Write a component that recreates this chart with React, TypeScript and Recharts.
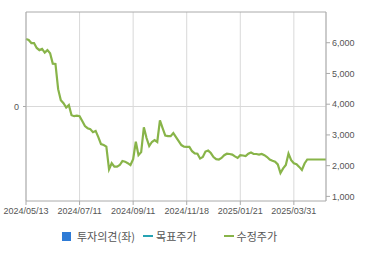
import { LineChart, Line, XAxis, YAxis, CartesianGrid, ReferenceLine } from 'recharts'

// x-axis labels shown every 20 trading days
const tickLabels = ['2024/05/13', '2024/07/11', '2024/09/11', '2024/11/18', '2025/01/21', '2025/03/31']
const tickIndex = [0, 20, 40, 60, 80, 100]

// 수정주가 (adjusted price)
const adjPrice = [
  6120, 6090, 5990, 5990, 5830, 5760, 5800, 5680, 5760, 5660,
  5320, 5310, 4490, 4130, 4030, 3890, 3970, 3640, 3610, 3630,
  3610, 3450, 3290, 3220, 3190, 3090, 3130, 2930, 2700, 2670,
  2620, 1880, 2080, 1970, 1970, 2020, 2150, 2130, 2080, 2020,
  2210, 2780, 2340, 2440, 3250, 2900, 2640, 2770, 2830, 2770,
  3470, 3220, 2980, 2960, 2960, 3060, 2930, 2800, 2670, 2620,
  2610, 2610, 2470, 2400, 2390, 2230, 2280, 2460, 2490, 2410,
  2280, 2210, 2200, 2250, 2340, 2390, 2380, 2360, 2300, 2250,
  2340, 2330, 2310, 2390, 2430, 2380, 2380, 2360, 2380, 2340,
  2280, 2200, 2160, 2130, 2040, 1760, 1910, 2020, 2390, 2180,
  2080, 2050, 1960, 1860, 2070, 2200, 2200, 2200, 2200, 2200,
  2200, 2200, 2200,
]

// 투자의견 has no entries in this period
const opinion: (number | null)[] = adjPrice.map(() => null)

const rightTicks = [1000, 2000, 3000, 4000, 5000, 6000]

const GREEN = '#88b449'
const AXIS = '#aaaaaa'
const GRID = '#d9d9d9'
const TEXT = '#555555'
const FONT = 'Liberation Sans, Arial, sans-serif'

const data = adjPrice.map((price, i) => ({ i, price, opinion: opinion[i] }))

function LegendItem({ kind, color, label }: { kind: 'box' | 'line'; color: string; label: string }) {
  return (
    <span style={{ display: 'inline-flex', alignItems: 'center', marginRight: 8 }}>
      {kind === 'box' ? (
        <span style={{ width: 9, height: 9, background: color, marginRight: 6 }} />
      ) : (
        <span style={{ width: 10, height: 2, background: color, marginRight: 3 }} />
      )}
      <span>{label}</span>
    </span>
  )
}

export default function App() {
  return (
    <div style={{ position: 'absolute', left: 0, top: 0, width: 370, height: 255, background: '#fff' }}>
      <LineChart width={370} height={222} data={data} margin={{ top: 12, right: 0, bottom: 7, left: 0 }}>
        <CartesianGrid stroke={GRID} vertical horizontal={false} />
        <XAxis
          dataKey="i"
          type="number"
          domain={[0, adjPrice.length - 1]}
          ticks={tickIndex}
          tickFormatter={(v: number) => tickLabels[tickIndex.indexOf(v)] ?? ''}
          interval={0}
          stroke={AXIS}
          tick={{ fontSize: 9, fill: TEXT, fontFamily: FONT }}
          tickSize={4}
          tickMargin={3}
          height={14}
        />
        <YAxis
          yAxisId="left"
          type="number"
          domain={[-1, 1]}
          allowDataOverflow
          ticks={[0]}
          interval={0}
          width={26}
          stroke={AXIS}
          tick={{ fontSize: 9, fill: TEXT, fontFamily: FONT }}
          tickSize={3}
          tickMargin={4}
        />
        <YAxis
          yAxisId="right"
          orientation="right"
          domain={[850, 7000]}
          ticks={rightTicks}
          tickFormatter={(v: number) => v.toLocaleString('en-US')}
          width={44}
          stroke={AXIS}
          tick={{ fontSize: 9, fill: TEXT, fontFamily: FONT }}
          tickSize={4}
          tickMargin={2}
        />
        <ReferenceLine yAxisId="left" y={0} stroke={GRID} />
        <ReferenceLine yAxisId="right" y={7000} stroke={AXIS} />
        <Line
          yAxisId="left"
          dataKey="opinion"
          stroke="#2e7bd6"
          dot={false}
          legendType="none"
          isAnimationActive={false}
        />
        <Line
          yAxisId="right"
          type="linear"
          dataKey="price"
          stroke={GREEN}
          strokeWidth={2.2}
          dot={false}
          isAnimationActive={false}
        />
      </LineChart>
      <div
        style={{
          position: 'absolute',
          left: 62,
          top: 228,
          display: 'flex',
          fontSize: 11,
          color: TEXT,
          fontFamily: '"Noto Sans CJK KR", sans-serif',
          lineHeight: '16px',
        }}
      >
        <LegendItem kind="box" color="#2e7bd6" label="투자의견(좌)" />
        <LegendItem kind="line" color="#27a3b3" label="목표주가" />
        <span style={{ width: 19 }} />
        <LegendItem kind="line" color={GREEN} label="수정주가" />
      </div>
    </div>
  )
}
